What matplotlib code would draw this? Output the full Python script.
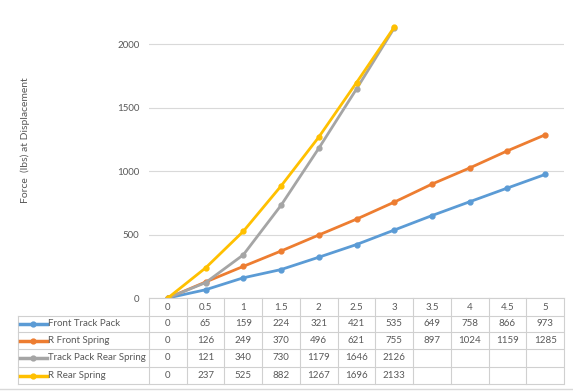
import matplotlib
matplotlib.use("Agg")
from matplotlib import pyplot as plt
from matplotlib.transforms import blended_transform_factory
from matplotlib.lines import Line2D

plt.rcParams['font.family'] = ['Lato', 'DejaVu Sans']

displacement = ['0', '0.5', '1', '1.5', '2', '2.5', '3', '3.5', '4', '4.5', '5']
front_track_pack = [0, 65, 159, 224, 321, 421, 535, 649, 758, 866, 973]
r_front_spring = [0, 126, 249, 370, 496, 621, 755, 897, 1024, 1159, 1285]
track_pack_rear_spring = [0, 121, 340, 730, 1179, 1646, 2126]
r_rear_spring = [0, 237, 525, 882, 1267, 1696, 2133]

names = ['Front Track Pack', 'R Front Spring', 'Track Pack Rear Spring', 'R Rear Spring']
series = [front_track_pack, r_front_spring, track_pack_rear_spring, r_rear_spring]
colors = ['#5B9BD5', '#ED7D31', '#A5A5A5', '#FFC000']

W, H = 573, 391
txt = '#595959'
grid = '#D9D9D9'
fs = 7

fig = plt.figure(figsize=(W/100, H/100), dpi=100)
ax = fig.add_axes([149/W, 1-298/H, (564-149)/W, (298-18)/H])

for vals, c in zip(series, colors):
    ax.plot(range(len(vals)), vals, '-o', color=c, lw=2, ms=3.5, solid_capstyle='round')

ax.set_xlim(-0.5, len(displacement)-0.5)
ax.set_ylim(0, 2205)
ax.set_yticks([0, 500, 1000, 1500, 2000])
ax.set_xticks([])
ax.tick_params(axis='y', length=0, pad=7, labelsize=fs, labelcolor=txt)
ax.grid(axis='y', color=grid, lw=0.8)
ax.set_axisbelow(True)
for s in ax.spines.values():
    s.set_visible(False)

fig.text(25/W, 1-140/H, 'Force  (lbs) at Displacement', rotation=90,
         ha='center', va='center', fontsize=7.5, color=txt)

# data table under the plot
bt = blended_transform_factory(ax.transData, fig.transFigure)
rows = [298, 316, 332, 349, 367, 384]
fy = lambda p: 1 - p/H
n = len(displacement)
lc = '#D0D0D0'

# horizontal lines
fig.add_artist(Line2D([-0.5, n-0.5], [fy(rows[0])]*2, transform=bt, color=lc, lw=0.8))
for r in rows[1:]:
    fig.add_artist(Line2D([18/W, 563/W], [fy(r)]*2, transform=fig.transFigure, color=lc, lw=0.8))
# vertical lines
fig.add_artist(Line2D([18/W]*2, [fy(rows[1]), fy(rows[-1])], transform=fig.transFigure, color=lc, lw=0.8))
for k in range(n+1):
    fig.add_artist(Line2D([k-0.5]*2, [fy(rows[0]), fy(rows[-1])], transform=bt, color=lc, lw=0.8))

for i, lab in enumerate(displacement):
    fig.text(i, fy((rows[0]+rows[1])/2), lab, transform=bt, ha='center', va='center',
             fontsize=fs, color=txt)

for j, (name, vals, c) in enumerate(zip(names, series, colors)):
    yc = fy((rows[j+1]+rows[j+2])/2)
    fig.add_artist(Line2D([20/W, 47/W], [yc, yc], transform=fig.transFigure, color=c, lw=2.5))
    fig.add_artist(Line2D([33/W], [yc], transform=fig.transFigure, color=c, marker='o', ms=3.5))
    fig.text(48/W, yc, name, ha='left', va='center', fontsize=fs, color=txt)
    for i, v in enumerate(vals):
        fig.text(i, yc, str(v), transform=bt, ha='center', va='center', fontsize=fs, color=txt)

fig.add_artist(Line2D([0, 1], [fy(389)]*2, transform=fig.transFigure, color=grid, lw=1))

fig.savefig('out.png', dpi=100)
